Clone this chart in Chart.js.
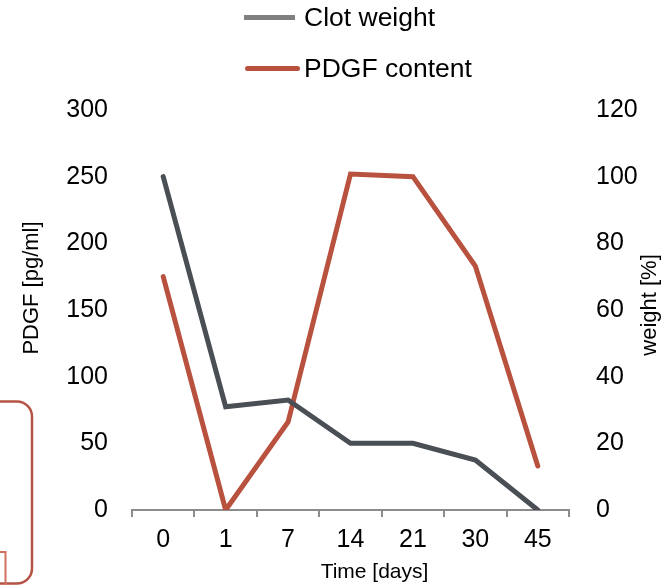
<!DOCTYPE html>
<html>
<head>
<meta charset="utf-8">
<script src="https://cdn.jsdelivr.net/npm/chart.js@4/dist/chart.umd.min.js"></script>
<style>
  html, body { margin: 0; padding: 0; background: #fff; }
  #wrap { position: relative; width: 666px; height: 585px; overflow: hidden; }
  #chart { position: absolute; left: 0; top: 0; }
  .lg-row { position: absolute; left: 0; height: 30px; font-family: "Liberation Sans", Arial, sans-serif; font-size: 26.5px; color: #000; }
  .lg-line { position: absolute; height: 5px; border-radius: 2.5px; }
  .lg-text { position: absolute; white-space: nowrap; line-height: 30px; top: 0; }
</style>
</head>
<body>
<div id="wrap">
  <canvas id="chart" width="666" height="585"></canvas>
  <div id="legend"></div>
</div>
<script>
// Sampling days after clot formation
const days = ['0', '1', '7', '14', '21', '30', '45'];
// PDGF released into the medium [pg/ml]
const pdgfContent = [175, 0, 66, 252, 250, 183, 33];
// Remaining clot weight [% of initial]
const clotWeight = [100, 31, 33, 20, 20, 15, 0];
// Axis tick values
const pdgfTicks = [0, 50, 100, 150, 200, 250, 300];
const weightTicks = [0, 20, 40, 60, 80, 100, 120];

const FONT = '"Liberation Sans", Arial, sans-serif';
const RED = '#b9513f';
const SLATE = '#4a4e55';
const AXIS_GREY = '#8c8c8c';

const series = [
  { label: 'Clot weight', data: clotWeight, color: SLATE, legendColor: '#808080', axis: 'yWeight' },
  { label: 'PDGF content', data: pdgfContent, color: RED, legendColor: RED, axis: 'yPdgf' }
];

// Axis titles, placed relative to the plot area
const axisTitles = {
  id: 'axisTitles',
  afterDraw(chart) {
    const { ctx, chartArea } = chart;
    const mid = (chartArea.top + chartArea.bottom) / 2;
    const put = (text, x, y, rotate, size) => {
      ctx.save();
      ctx.fillStyle = '#000';
      ctx.font = size + 'px ' + FONT;
      ctx.textAlign = 'center';
      ctx.textBaseline = 'middle';
      ctx.translate(x, y);
      if (rotate) ctx.rotate(-Math.PI / 2);
      ctx.fillText(text, 0, 0);
      ctx.restore();
    };
    put('PDGF [pg/ml]', chartArea.left - 100, mid - 22, true, 22);
    put('weight [%]', chartArea.right + 81, mid - 5, true, 22);
    put('Time [days]', (chartArea.left + chartArea.right) / 2 + 24, chartArea.bottom + 62, false, 21);
  }
};

// Edge of the neighbouring panel framed at the left margin
const sidePanel = {
  id: 'sidePanel',
  beforeDraw(chart) {
    const { ctx } = chart;
    ctx.save();
    ctx.strokeStyle = '#b55444';
    ctx.lineWidth = 2.5;
    ctx.beginPath();
    ctx.roundRect(-80, 401.5, 112, 182, 15);
    ctx.stroke();
    ctx.strokeStyle = '#d0705f';
    ctx.lineWidth = 2;
    ctx.beginPath();
    ctx.moveTo(-2, 552);
    ctx.lineTo(5.5, 552);
    ctx.lineTo(5.5, 590);
    ctx.stroke();
    ctx.restore();
  }
};

new Chart(document.getElementById('chart'), {
  type: 'line',
  data: {
    labels: days,
    datasets: series.map(s => ({
      label: s.label,
      data: s.data,
      yAxisID: s.axis,
      borderColor: s.color,
      backgroundColor: s.color,
      borderWidth: 5,
      borderCapStyle: 'round',
      borderJoinStyle: 'miter',
      pointRadius: 0,
      pointHoverRadius: 0,
      tension: 0,
      fill: false
    }))
  },
  options: {
    responsive: false,
    animation: false,
    events: [],
    layout: { padding: { top: 110, left: 0, right: 0, bottom: 0 } },
    plugins: { legend: { display: false }, tooltip: { enabled: false } },
    scales: {
      x: {
        type: 'category',
        offset: true,
        grid: {
          display: true,
          drawOnChartArea: false,
          drawTicks: true,
          tickLength: 7,
          color: AXIS_GREY,
          lineWidth: 2,
          offset: true
        },
        border: { display: true, color: AXIS_GREY, width: 2 },
        ticks: { color: '#000', font: { family: FONT, size: 25 }, padding: 8, maxRotation: 0, autoSkip: false },
        title: { display: false },
        afterFit(scale) { scale.height = 75; }
      },
      yPdgf: {
        position: 'left',
        min: 0,
        max: 300,
        afterBuildTicks(scale) { scale.ticks = pdgfTicks.map(v => ({ value: v })); },
        grid: { display: false, drawTicks: false },
        border: { display: false },
        ticks: { color: '#000', font: { family: FONT, size: 25 }, padding: 24 },
        afterFit(scale) { scale.width = 132; }
      },
      yWeight: {
        position: 'right',
        min: 0,
        max: 120,
        afterBuildTicks(scale) { scale.ticks = weightTicks.map(v => ({ value: v })); },
        grid: { display: false, drawTicks: false },
        border: { display: false },
        ticks: { color: '#000', font: { family: FONT, size: 25 }, padding: 27 },
        afterFit(scale) { scale.width = 97; }
      }
    }
  },
  plugins: [sidePanel, axisTitles]
});

// Stacked legend above the plot
const legend = document.getElementById('legend');
const rows = [
  { top: 2, lineLeft: 244, lineWidth: 51 },
  { top: 53, lineLeft: 245, lineWidth: 55 }
];
series.forEach((s, i) => {
  const r = rows[i];
  const row = document.createElement('div');
  row.className = 'lg-row';
  row.style.top = r.top + 'px';
  const line = document.createElement('div');
  line.className = 'lg-line';
  line.style.left = r.lineLeft + 'px';
  line.style.width = r.lineWidth + 'px';
  line.style.top = '13px';
  line.style.background = s.legendColor;
  if (i === 0) line.style.borderRadius = '0';
  const text = document.createElement('div');
  text.className = 'lg-text';
  text.style.left = '304px';
  text.textContent = s.label;
  row.appendChild(line);
  row.appendChild(text);
  legend.appendChild(row);
});
</script>
</body>
</html>
